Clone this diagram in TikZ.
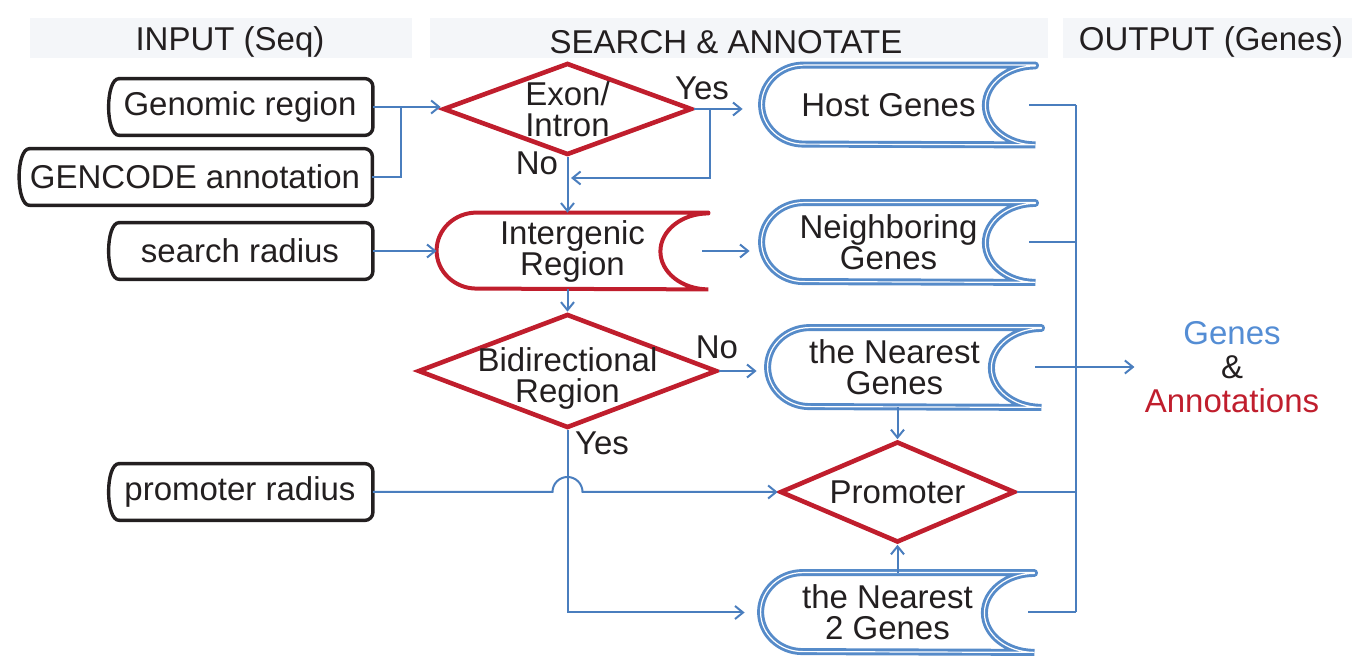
\documentclass[tikz,border=0pt]{standalone}
\usepackage{fontspec}
\setmainfont{Liberation Sans}
\usetikzlibrary{shapes,arrows.meta}

\definecolor{lineblue}{RGB}{74,126,190}
\definecolor{boxblue}{RGB}{86,139,201}
\definecolor{boxred}{RGB}{192,30,45}
\definecolor{ink}{RGB}{35,31,32}
\definecolor{bandgray}{RGB}{244,246,249}
\definecolor{genesblue}{RGB}{84,141,212}

\tikzset{
  every node/.style={font=\fontsize{16.5pt}{14pt}\selectfont, text=ink},
  twoline/.style={align=center, font=\fontsize{16.5pt}{15.5pt}\selectfont},
  band/.style={fill=bandgray, minimum height=20pt, inner sep=0pt},
  inbox/.style={minimum width=132.5pt, minimum height=28pt, inner sep=0pt},
  inline/.style={draw=ink, line width=1.7pt, line cap=round, line join=round},
  decide/.style={diamond, draw=boxred, line width=2.3pt, inner sep=0pt},
  inter/.style={twoline, minimum width=135.5pt, minimum height=38pt, inner sep=0pt},
  interline/.style={draw=boxred, line width=2pt, line cap=round},
  store/.style={twoline, minimum width=126.5pt, minimum height=39.5pt, inner sep=0pt},
  storeline/.style={draw=boxblue, line width=1.45pt, double=white, double distance=0.6pt, line cap=round},
  plain/.style={draw=lineblue, line width=1pt},
  link/.style={plain, -{Straight Barb[length=4pt,width=6.5pt]}},
}

\begin{document}
\begin{tikzpicture}[x=0.5pt, y=-0.5pt]
\useasboundingbox (0,0) rectangle (1360,667);
% headers
\node[band, minimum width=191pt] (bandin) at (221,38) {};
\node[band, minimum width=309pt] (bandsa) at (739,38) {};
\node[band, minimum width=144.5pt] (bandout) at (1207,38) {};
\node (hin) at (230,42) {INPUT (Seq)};
\node (hsa) at (726,42) {SEARCH \& ANNOTATE};
\node (hout) at (1211,42) {OUTPUT (Genes)};

% input
\node[inbox] (gr) at (240,107) {Genomic region};
\node[inbox, minimum width=177pt] (gc) at (195,177) {GENCODE annotation};
\node[inbox] (sr) at (240,251) {search radius};
\node[inbox] (pr) at (240,492) {promoter radius};
\foreach \n in {gr,gc,sr,pr} {
    \draw[inline, rounded corners=4pt] ([xshift=6pt]\n.south west) -- (\n.south east) -- (\n.north east) -- ([xshift=6pt]\n.north west);
    \draw[inline] ([xshift=6pt]\n.north west) .. controls ([xshift=-1pt]\n.north west) and ([xshift=-1pt]\n.south west) .. ([xshift=6pt]\n.south west);
}

% search & annotate
\node[decide, minimum width=124.5pt, minimum height=46pt, label={[twoline]center:Exon/\\Intron}] (exon) at (567.5,109) {};
\node[inter] (inter) at (572.5,251) {Intergenic\\Region};
\draw[interline] (inter.north east) -- ([xshift=20pt]inter.north west) arc[start angle=90, end angle=270, x radius=20pt, y radius=19pt] -- (inter.south east) arc[start angle=270, end angle=90, x radius=24pt, y radius=19pt];
\node[decide, minimum width=149.5pt, minimum height=57pt, label={[twoline, yshift=-3.5pt]center:Bidirectional\\Region}] (bidir) at (567.5,371) {};

\node[store] (host) at (888.5,105) {Host Genes};
\node[store] (neigh) at (888.5,242.5) {Neighboring\\Genes};
\node[store] (near) at (894.5,367.5) {the Nearest\\Genes};
\node[decide, minimum width=117.5pt, minimum height=50.5pt, label=center:Promoter] (prom) at (897.5,492) {};
\node[store] (near2) at (887.5,612.5) {the Nearest\\2 Genes};
\foreach \n in {host,neigh,near,near2} {
    \draw[storeline] ([xshift=10pt]\n.north east) -- ([xshift=21pt]\n.north west) arc[start angle=90, end angle=270, x radius=21pt, y radius=19.75pt] -- ([xshift=10pt]\n.south east) arc[start angle=270, end angle=90, x radius=25pt, y radius=19.75pt];
}

\node[align=center, inner sep=0pt, font=\fontsize{16.5pt}{17pt}\selectfont] (out) at (1232,367) {\textcolor{genesblue}{Genes}\\\&\\\textcolor{boxred}{Annotations}};

\node (yes1) at (702,88) {Yes};
\node (no1) at (537,163) {No};
\node (no2) at (717,347) {No};
\node (yes2) at (602,443) {Yes};

\coordinate (gjoin) at (401,107);
\coordinate (yturn) at (710,178);
\coordinate (nojoin) at (571,178);
\coordinate (bustop) at (1076,105);

% connectors
\draw[link] (gr.east) -- (gr.east -| exon.west);
\draw[plain] (gc.east) -| (gjoin);
\draw[link] (exon.east) -- ([xshift=-9.5pt]exon.east -| host.west);
\draw[link] (exon.east -| yturn) -- (yturn) -- (nojoin);
\draw[link] (exon.south) -- (exon.south |- inter.north);
\draw[link] (sr.east) -- (sr.east -| inter.west);
\draw[link] ([xshift=-3pt]inter.east) -- ([xshift=-6pt]inter.east -| neigh.west);
\draw[link] (inter.south -| bidir.north) -- (bidir.north);
\draw[link] (bidir.east) -- ([xshift=-5.5pt]bidir.east -| near.west);
\draw[link] (bidir.south) |- ([xshift=-8pt]near2.west);
\draw[link] (pr.east) -- ([xshift=-7.5pt]pr.east -| bidir.south) arc[start angle=180, end angle=0, radius=7.5pt] -- (prom.west);
\draw[link] (prom.north |- near.south) -- (prom.north);
\draw[link] (prom.south |- near2.north) -- (prom.south);

% output
\foreach \n in {host,neigh,near,near2} {
    \draw[plain] ([xshift=7pt]\n.east) -- (\n.east -| bustop);
}
\draw[plain] (prom.east) -- (prom.east -| bustop);
\draw[plain] (host.east -| bustop) -- (near2.east -| bustop);
\draw[link] (out.west -| bustop) -- ([xshift=-5pt]out.west);
\end{tikzpicture}
\end{document}
